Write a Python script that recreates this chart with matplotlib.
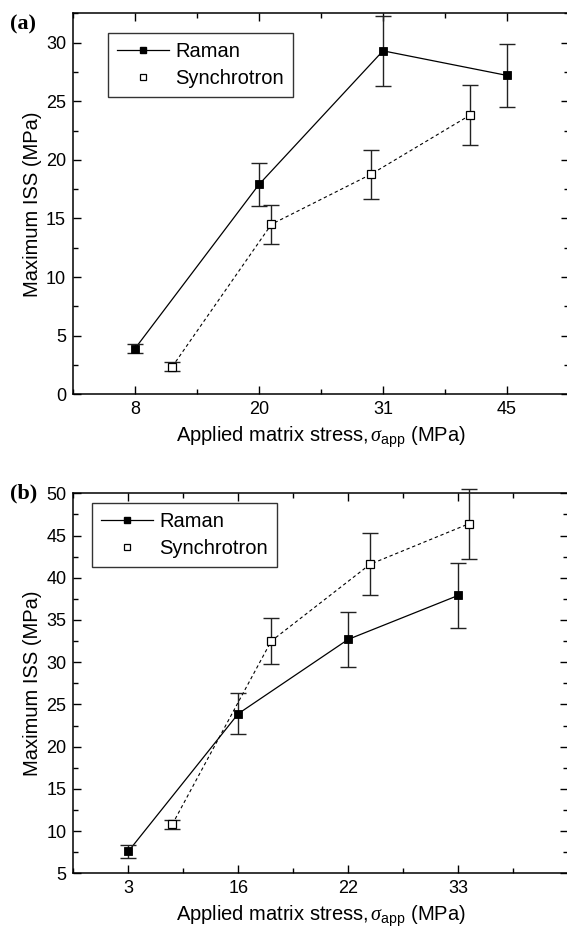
import matplotlib
matplotlib.use('Agg')
import matplotlib.pyplot as plt
from matplotlib.lines import Line2D
from matplotlib.ticker import FixedLocator, MultipleLocator

plt.rcParams['font.family'] = ['Liberation Sans', 'DejaVu Sans']
plt.rcParams['mathtext.fontset'] = 'custom'
plt.rcParams['mathtext.rm'] = 'Liberation Sans'
plt.rcParams['mathtext.it'] = 'Liberation Serif:italic'

# ---- data: panel (a) ----
a_tick_labels = ['8', '20', '31', '45']
a_raman_x = [1, 2, 3, 4]
a_raman_y = [3.9, 17.9, 29.3, 27.2]
a_raman_err = [0.35, 1.8, 3.0, 2.7]
a_sync_x = [1.3, 2.1, 2.9, 3.7]
a_sync_y = [2.35, 14.5, 18.75, 23.8]
a_sync_err = [0.4, 1.65, 2.05, 2.55]

# ---- data: panel (b) ----
b_tick_labels = ['3', '16', '22', '33']
b_raman_x = [1, 2, 3, 4]
b_raman_y = [7.6, 23.9, 32.7, 37.9]
b_raman_err = [0.75, 2.4, 3.3, 3.8]
b_sync_x = [1.4, 2.3, 3.2, 4.1]
b_sync_y = [10.8, 32.5, 41.6, 46.4]
b_sync_err = [0.55, 2.75, 3.65, 4.15]

W, H = 567, 931
fig = plt.figure(figsize=(W / 100, H / 100), dpi=100)


def px_axes(l, t, r, b):
    return fig.add_axes([l / W, 1 - b / H, (r - l) / W, (b - t) / H])


def draw_panel(ax, rx, ry, rerr, sx, sy, serr, labels, xlim, ylim, ymajor, leg_anchor):
    ax.plot(rx, ry, '-', color='black', lw=0.9, zorder=2)
    ax.plot(sx, sy, color='black', lw=0.8, linestyle=(0, (3, 2.5)), zorder=2)
    ax.errorbar(rx, ry, yerr=rerr, fmt='none', ecolor='#222222', elinewidth=1.0,
                capsize=5.5, capthick=1.0, zorder=3, clip_on=False)
    ax.errorbar(sx, sy, yerr=serr, fmt='none', ecolor='#222222', elinewidth=1.0,
                capsize=5.5, capthick=1.0, zorder=3, clip_on=False)
    ax.plot(rx, ry, 's', color='black', ms=6, mec='black', mew=0.6, zorder=4, clip_on=False)
    ax.plot(sx, sy, 's', mfc='white', mec='black', ms=6, mew=0.9, zorder=4, clip_on=False)

    ax.set_xlim(*xlim)
    ax.set_ylim(*ylim)
    ax.xaxis.set_major_locator(FixedLocator(rx))
    ax.set_xticklabels(labels)
    ax.xaxis.set_minor_locator(MultipleLocator(0.5))
    ax.yaxis.set_major_locator(MultipleLocator(ymajor))
    ax.yaxis.set_minor_locator(MultipleLocator(ymajor / 2))
    ax.tick_params(which='both', direction='in', top=True, right=True, width=1.0, color='black')
    ax.tick_params(which='major', length=6, labelsize=13, pad=5)
    ax.tick_params(which='minor', length=3.5)
    for s in ax.spines.values():
        s.set_linewidth(1.1)
    ax.set_ylabel('Maximum ISS (MPa)', fontsize=14.5, labelpad=3)
    ax.set_xlabel(r'Applied matrix stress,$\,\sigma_{\rm app}$ (MPa)', fontsize=14.5, labelpad=5)

    handles = [
        Line2D([], [], color='black', lw=0.9, marker='s', ms=5, mfc='black', mec='black'),
        Line2D([], [], linestyle='none', marker='s', ms=5, mfc='white', mec='black', mew=0.9),
    ]
    leg = ax.legend(handles, ['Raman', 'Synchrotron'], loc='upper left', bbox_to_anchor=leg_anchor,
                    borderaxespad=0, fontsize=14.5, frameon=True, fancybox=False,
                    edgecolor='#333333', framealpha=1, handlelength=2.6, handletextpad=0.3,
                    borderpad=0.45, labelspacing=0.4)
    leg.get_frame().set_linewidth(1.0)


ax_a = px_axes(73, 13.3, 569, 394.3)
draw_panel(ax_a, a_raman_x, a_raman_y, a_raman_err, a_sync_x, a_sync_y, a_sync_err,
           a_tick_labels, (0.5, 4.5), (0, 32.5), 5, (0.0706, 0.948))

ax_b = px_axes(73.4, 493.3, 568, 873.3)
draw_panel(ax_b, b_raman_x, b_raman_y, b_raman_err, b_sync_x, b_sync_y, b_sync_err,
           b_tick_labels, (0.5, 5.0), (5, 50), 5, (0.037, 0.974))

fig.text(10 / W, 1 - 24 / H, '(a)', family='Liberation Serif', weight='bold', fontsize=16,
         ha='left', va='center')
fig.text(10 / W, 1 - 493 / H, '(b)', family='Liberation Serif', weight='bold', fontsize=16,
         ha='left', va='center')

fig.savefig('out.png', dpi=100)
